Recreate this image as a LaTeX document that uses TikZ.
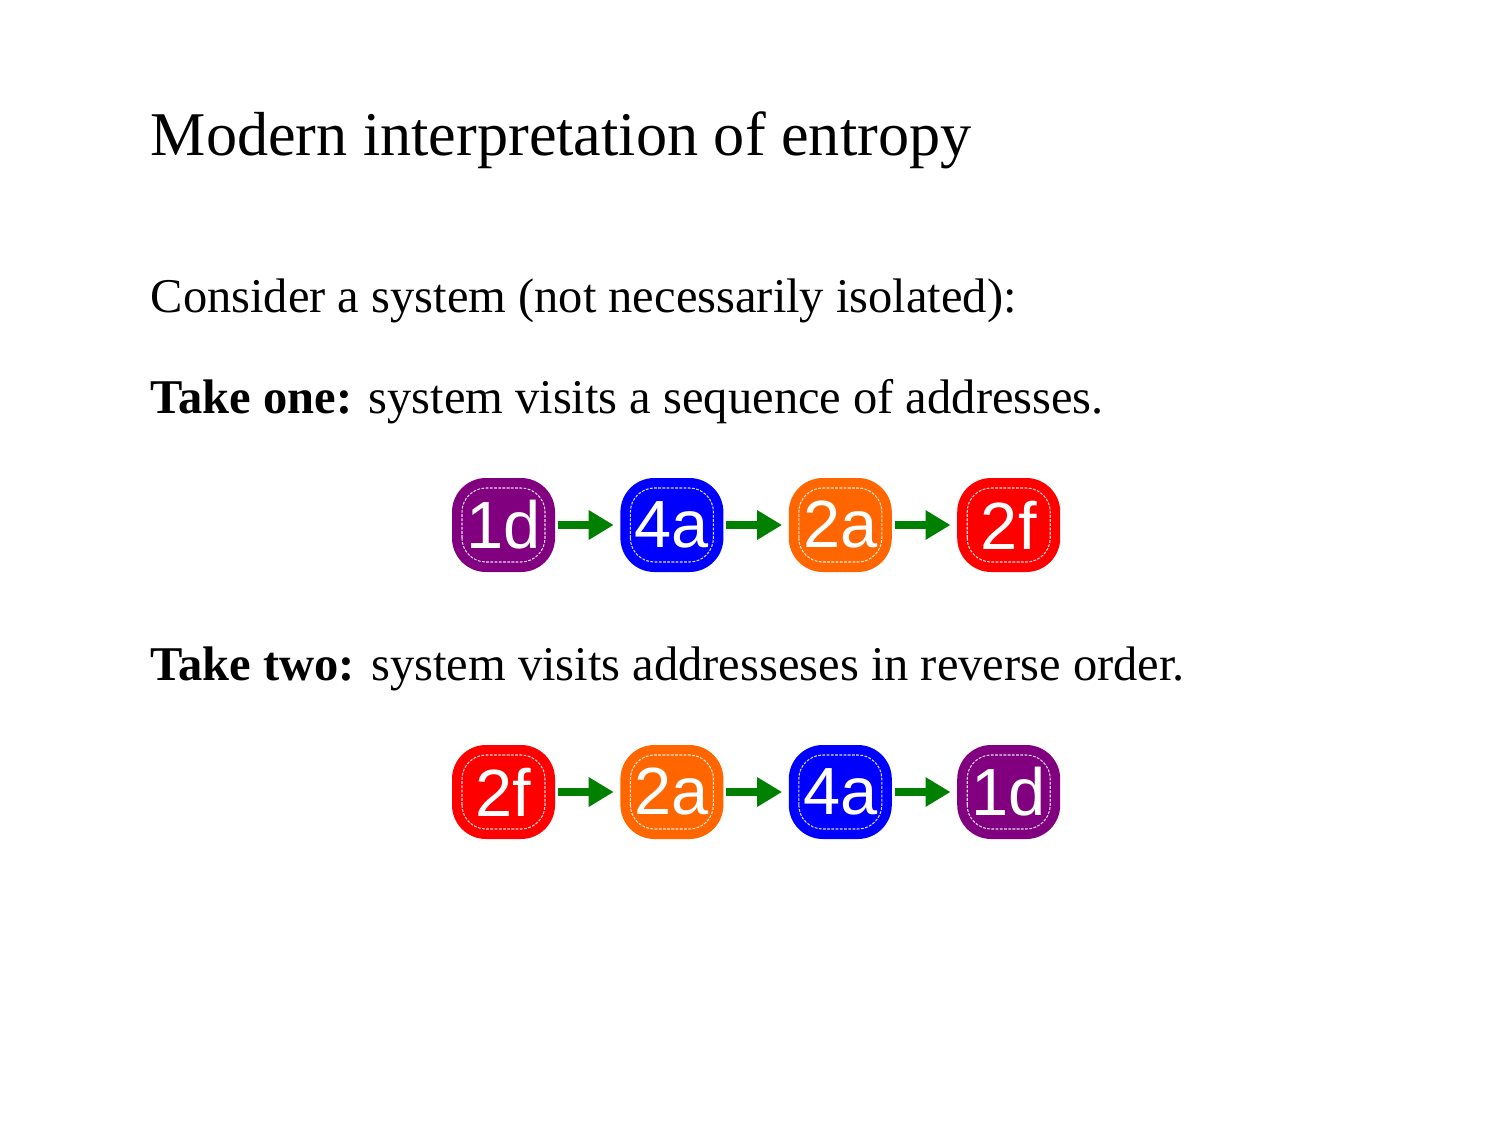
\documentclass[tikz,border=0pt]{standalone}
\usepackage{fontspec}
\setmainfont{Liberation Serif}
\newfontfamily\boxfont{Liberation Sans}
\usetikzlibrary{arrows.meta,positioning}

\definecolor{addrpurple}{RGB}{128,0,128}
\definecolor{addrblue}{RGB}{0,0,255}
\definecolor{addrorange}{RGB}{255,102,0}
\definecolor{addrred}{RGB}{255,0,0}
\definecolor{arrgreen}{RGB}{0,128,0}

\begin{document}
\begin{tikzpicture}[node distance=6.4mm,
  line/.style={anchor=base west, inner sep=0pt, font=\fontsize{13.8}{16}\selectfont},
  addr/.style={fill=#1, rounded corners=3.4mm, minimum width=10.3mm, minimum height=9.4mm, inner sep=0pt,
    text=white, font=\boxfont\fontsize{19}{22}\selectfont,
    path picture={\draw[white!85!#1, line width=0.3pt, dash pattern=on 0.8pt off 0.4pt, rounded corners=2.4mm]
      ([shift={(1mm,1mm)}]path picture bounding box.south west) rectangle
      ([shift={(-1mm,-1mm)}]path picture bounding box.north east);}},
  arr/.style={arrgreen, line width=0.8mm, -{Triangle[length=2.5mm,width=2.8mm]}, shorten <=0.2mm, shorten >=0.6mm}]
\useasboundingbox (0,0) rectangle (15.12,-11.34);
% text
\node[line, font=\fontsize{17.7}{20}\selectfont] (title) at (1.5,-1.55) {Modern interpretation of entropy};
\node[line] (consider) at (1.5,-3.12) {Consider a system (not necessarily isolated):};
\node[line] (one) at (1.5,-4.13) {\textbf{Take one:} system visits a sequence of addresses.};
\node[line] (two) at (1.5,-6.80) {\textbf{Take two:} system visits addresseses in reverse order.};
% take one
\node[addr=addrpurple] (a1) at (5.035,-5.25) {1d};
\node[addr=addrblue, right=of a1] (a2) {4a};
\node[addr=addrorange, right=of a2] (a3) {2a};
\node[addr=addrred, right=of a3] (a4) {2f};
\draw[arr] (a1)--(a2); \draw[arr] (a2)--(a3); \draw[arr] (a3)--(a4);
% take two
\node[addr=addrred] (b1) at (5.035,-7.92) {2f};
\node[addr=addrorange, right=of b1] (b2) {2a};
\node[addr=addrblue, right=of b2] (b3) {4a};
\node[addr=addrpurple, right=of b3] (b4) {1d};
\draw[arr] (b1)--(b2); \draw[arr] (b2)--(b3); \draw[arr] (b3)--(b4);
\end{tikzpicture}
\end{document}
